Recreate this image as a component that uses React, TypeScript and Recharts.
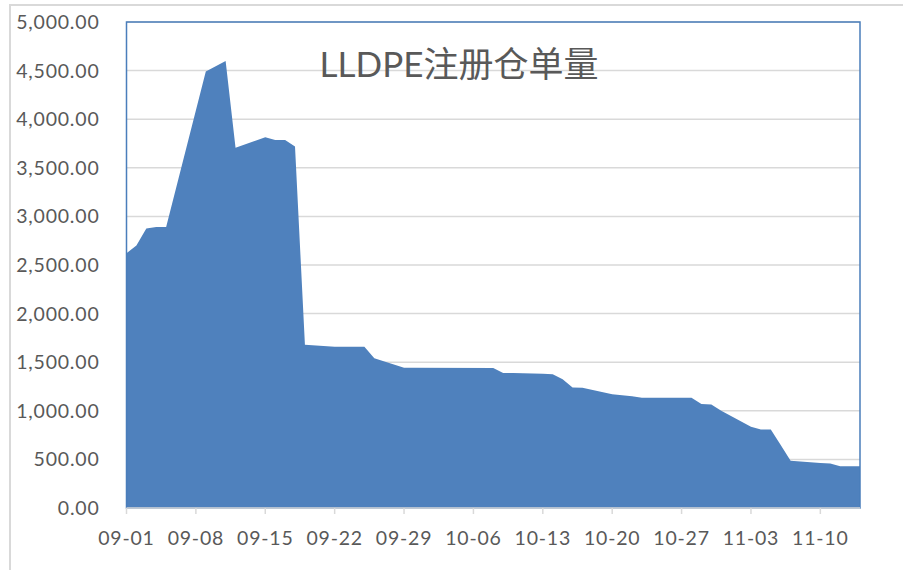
import { AreaChart, Area, XAxis, YAxis, CartesianGrid, ReferenceArea } from "recharts"

const YEAR = 2014

// trading days (MM-DD)
const dates = [
  "09-01", "09-02", "09-03", "09-04", "09-05", "09-09", "09-10", "09-11", "09-12",
  "09-15", "09-16", "09-17", "09-18", "09-19", "09-22", "09-23", "09-24", "09-25", "09-26",
  "09-29", "09-30", "10-08", "10-09", "10-10", "10-13", "10-14", "10-15", "10-16", "10-17",
  "10-20", "10-21", "10-22", "10-23", "10-24", "10-27", "10-28", "10-29", "10-30", "10-31",
  "11-03", "11-04", "11-05", "11-06", "11-07", "11-10", "11-11", "11-12", "11-13", "11-14",
]

const receipts = [
  2620, 2700, 2875, 2890, 2890, 4490, 4545, 4600, 3705,
  3815, 3785, 3785, 3720, 1680, 1660, 1660, 1660, 1660, 1540,
  1443, 1443, 1440, 1390, 1388, 1380, 1375, 1325, 1240, 1237,
  1170, 1160, 1150, 1135, 1135, 1135, 1135, 1070, 1065, 1000,
  835, 808, 808, 647, 485, 462, 458, 430, 430, 430,
]

const xTickLabels = ["09-01", "09-08", "09-15", "09-22", "09-29", "10-06", "10-13", "10-20", "10-27", "11-03", "11-10"]
const yTicks = [0, 500, 1000, 1500, 2000, 2500, 3000, 3500, 4000, 4500, 5000]

const DAY = 86400000
const start = Date.UTC(YEAR, 8, 1)
const dayOf = (md: string) => {
  const [m, d] = md.split("-").map(Number)
  return Math.round((Date.UTC(YEAR, m - 1, d) - start) / DAY)
}

const data = dates.map((d, i) => ({ day: dayOf(d), value: receipts[i] }))
const xTicks = xTickLabels.map(dayOf)
const labelByDay: Record<number, string> = {}
xTickLabels.forEach((l) => (labelByDay[dayOf(l)] = l))

const tickFont = { fontFamily: "Lato, 'Noto Sans', sans-serif", fontSize: 19.5, fill: "#595959", letterSpacing: 0.8 }

export default function App() {
  return (
    <div style={{ position: "absolute", left: 0, top: 0, width: 903, height: 570, background: "#fff", overflow: "hidden" }}>
      {/* chart area border */}
      <div
        style={{
          position: "absolute",
          left: 9,
          top: 4,
          width: 900,
          height: 570,
          borderTop: "2px solid #d9d9d9",
          borderLeft: "2px solid #d9d9d9",
        }}
      />
      <AreaChart width={903} height={570} data={data} margin={{ top: 22, right: 43, left: 0, bottom: 0 }}>
        <CartesianGrid vertical={false} stroke="#d9d9d9" strokeWidth={1.5} />
        <XAxis
          dataKey="day"
          type="number"
          domain={[0, 74]}
          ticks={xTicks}
          tickFormatter={(v: number) => labelByDay[v] ?? ""}
          height={62}
          axisLine={{ stroke: "#d9d9d9", strokeWidth: 1.5 }}
          tickLine={{ stroke: "#d9d9d9", strokeWidth: 1.5 }}
          tickSize={6}
          tickMargin={17}
          tick={tickFont}
          interval={0}
        />
        <YAxis
          domain={[0, 5000]}
          ticks={yTicks}
          width={126.5}
          axisLine={false}
          tickLine={false}
          tickSize={0}
          tickMargin={27}
          tick={tickFont}
          tickFormatter={(v: number) => v.toLocaleString("en-US", { minimumFractionDigits: 2, maximumFractionDigits: 2 })}
          interval={0}
        />
        <Area type="linear" dataKey="value" stroke="none" fill="#4f81bd" fillOpacity={1} isAnimationActive={false} />
        <ReferenceArea x1={0} x2={74} y1={0} y2={5000} fill="none" stroke="#4a7ebb" strokeWidth={1.5} />
      </AreaChart>
      <div
        style={{
          position: "absolute",
          left: 10,
          width: 898,
          top: 41,
          textAlign: "center",
          fontFamily: "Lato, 'Noto Sans CJK SC', sans-serif",
          fontSize: 35,
          color: "#595959",
          lineHeight: "44px",
        }}
      >
        LLDPE注册仓单量
      </div>
    </div>
  )
}
